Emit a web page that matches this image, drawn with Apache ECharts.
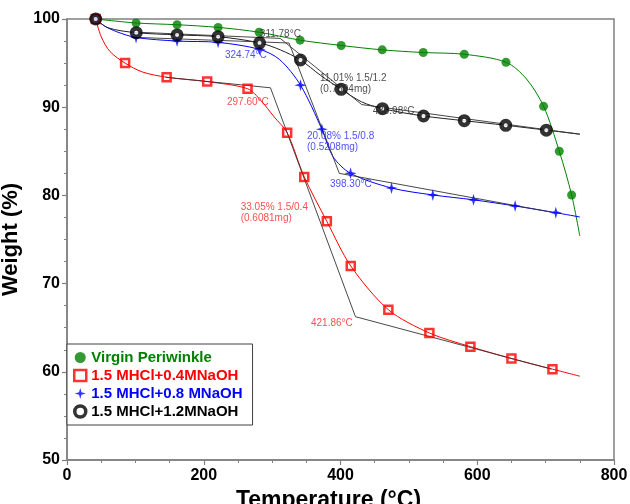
<!DOCTYPE html>
<html>
<head>
<meta charset="utf-8">
<script src="https://cdn.jsdelivr.net/npm/echarts@6/dist/echarts.min.js"></script>
<style>
html,body{margin:0;padding:0;background:#fff;}
#chart{width:630px;height:504px;}
</style>
</head>
<body>
<div id="chart"></div>
<script>
// ---- data (temperature °C, weight %) ----
var seriesNames = ['Virgin Periwinkle', '1.5 MHCl+0.4MNaOH', '1.5 MHCl+0.8 MNaOH', '1.5 MHCl+1.2MNaOH'];

var greenCurve = [[42,100],[101,99.55],[161,99.35],[221,99.05],[281,98.5],[341,97.6],[401,97.0],[461,96.5],[521,96.2],[581,96.0],[642,95.1],[672,93.2],[697,90.1],[720,85.0],[738,80.05],[750,75.4]];
var greenMarks = [[101,99.55],[161,99.35],[221,99.05],[281,98.5],[341,97.6],[401,97.0],[461,96.5],[521,96.2],[581,96.0],[642,95.1],[697,90.1],[720,85.0],[738,80.05]];

var redCurve = [[42,100],[50,98.0],[63,96.3],[85,95.0],[110,94.0],[145.7,93.4],[205,92.9],[264,92.1],[283,90.8],[303,88.9],[322,87.1],[347,82.1],[380,77.06],[415,72.0],[470,67.04],[530,64.4],[590,62.85],[650,61.5],[710,60.3],[750,59.5]];
var redMarks = [[42,100],[85,95.0],[145.7,93.4],[205,92.9],[264,92.1],[322,87.1],[347,82.1],[380,77.06],[415,72.0],[470,67.04],[530,64.4],[590,62.85],[650,61.5],[710,60.3]];

var blueCurve = [[42,100],[55,99.2],[72.6,98.56],[101,97.9],[161,97.5],[221,97.35],[281.6,96.56],[311,95.4],[341.5,92.5],[372.8,87.5],[389,84.4],[414.7,82.5],[474.6,80.84],[535,80.05],[594.5,79.5],[655.4,78.8],[714.9,78.04],[750,77.55]];
var blueMarks = [[42,100],[101,97.9],[161,97.5],[221,97.35],[281.6,96.56],[341.5,92.5],[372.8,87.5],[414.7,82.5],[474.6,80.84],[535,80.05],[594.5,79.5],[655.4,78.8],[714.9,78.04]];

var blackCurve = [[42,100],[60,99.0],[101.3,98.45],[161,98.2],[221,98.0],[281.6,97.3],[312,96.5],[341.5,95.35],[371,93.6],[401,92.03],[431,90.6],[461.4,89.83],[521.4,89.0],[581,88.47],[641.7,87.95],[701,87.4],[750,86.95]];
var blackMarks = [[42,100],[101.3,98.45],[161,98.2],[221,98.0],[281.6,97.3],[341.5,95.35],[401,92.03],[461.4,89.83],[521.4,89.0],[581,88.47],[641.7,87.95],[701,87.4]];

// onset tangent construction lines
var redTangent = [[144.3,93.39],[297.6,92.2],[421.86,66.25],[708.6,60.3]];
var blueTangent = [[106.7,97.9],[324.74,97.28],[398.3,82.5],[708.6,78.1]];
var blackTangent = [[106.7,98.49],[311.78,97.8],[430.98,90.3],[750,86.93]];

// annotation texts and their anchor positions (data coords)
var noteTexts = ['311.78°C', '324.74°C', '297.60°C', '11.01% 1.5/1.2\n(0.7604mg)', '430.98°C', '20.08% 1.5/0.8\n(0.5208mg)', '398.30°C', '33.05% 1.5/0.4\n(0.6081mg)', '421.86°C'];
var noteAt = [[282,98.3],[231,95.9],[234,90.6],[370,92.65],[447,89.57],[351,86.03],[384.5,81.26],[254,78.08],[418,65.5]];
var noteColors = ['#222', '#2222ff', '#ff2020', '#222', '#222', '#2222ff', '#2222ff', '#ff2020', '#ff2020'];
var noteAlign = ['left','left','left','left','left','left','left','left','right'];

var xTicks = {min:0, max:800, interval:200};
var yTicks = {min:50, max:100, interval:10};

// ---- chart ----
var colors = ['#008000', '#ff0000', '#0000ff', '#000000'];
var star = 'path://M0,-10 L2.2,-2.2 L10,0 L2.2,2.2 L0,10 L-2.2,2.2 L-10,0 L-2.2,-2.2 Z';
var FONT = 'Liberation Sans, Arial, sans-serif';

function curve(name, data, color) {
  return {type:'line', name:name, data:data, smooth:0.3, showSymbol:false, symbol:'none',
    lineStyle:{color:color, width:1}, z:2, silent:true};
}
function tangent(name, data) {
  return {type:'line', name:name, data:data, showSymbol:false, symbol:'none',
    lineStyle:{color:'#333', width:0.9}, z:3, silent:true};
}

var notes = noteTexts.map(function(t, i){
  return {value:noteAt[i], label:{formatter:t, color:noteColors[i], align:noteAlign[i]}};
});

var legendIcons = [
  {icon:'circle', itemStyle:{color:colors[0]}},
  {icon:'rect', itemStyle:{color:'#fff', borderColor:colors[1], borderWidth:2.5}},
  {icon:star, itemStyle:{color:colors[2]}},
  {icon:'circle', itemStyle:{color:'#fff', borderColor:'#000', borderWidth:3.5}}
];

var option = {
  animation:false,
  backgroundColor:'#fff',
  grid:{left:67, right:16, top:19, bottom:44, outerBoundsMode:'none', containLabel:false,
    show:true, borderColor:'#808080', borderWidth:1.5, backgroundColor:'transparent'},
  xAxis:{type:'value', min:xTicks.min, max:xTicks.max, interval:xTicks.interval,
    name:'Temperature (°C)', nameLocation:'middle', nameGap:22,
    nameTextStyle:{fontFamily:FONT, fontSize:23, fontWeight:'bold', color:'#000', padding:[0,24,0,0]},
    axisLine:{lineStyle:{color:'#808080', width:1.5}},
    axisTick:{length:5, lineStyle:{color:'#808080', width:1.2}},
    minorTick:{show:true, splitNumber:4, length:3, lineStyle:{color:'#808080', width:1}},
    splitLine:{show:false},
    axisLabel:{fontFamily:FONT, fontSize:16, fontWeight:'bold', color:'#000', margin:8}
  },
  yAxis:{type:'value', min:yTicks.min, max:yTicks.max, interval:yTicks.interval,
    name:'Weight (%)', nameLocation:'middle', nameGap:32,
    nameTextStyle:{fontFamily:FONT, fontSize:22, fontWeight:'bold', color:'#000'},
    axisLine:{lineStyle:{color:'#808080', width:1.5}},
    axisTick:{length:5, lineStyle:{color:'#808080', width:1.2}},
    minorTick:{show:true, splitNumber:4, length:3, lineStyle:{color:'#808080', width:1}},
    splitLine:{show:false},
    axisLabel:{fontFamily:FONT, fontSize:16, fontWeight:'bold', color:'#000', margin:7}
  },
  legend:{orient:'vertical', left:67, top:344, padding:[6,10,6,6], itemGap:3, itemWidth:12, itemHeight:11,
    backgroundColor:'#fff', borderColor:'#404040', borderWidth:1,
    textStyle:{fontFamily:FONT, fontSize:15, fontWeight:'bold'},
    data:seriesNames.map(function(n,i){
      return {name:n, icon:legendIcons[i].icon, itemStyle:legendIcons[i].itemStyle, textStyle:{color:colors[i]}};
    })
  },
  series:[
    curve('c0', greenCurve, colors[0]),
    curve('c1', redCurve, colors[1]),
    curve('c2', blueCurve, colors[2]),
    curve('c3', blackCurve, '#222'),
    tangent('t1', redTangent),
    tangent('t2', blueTangent),
    tangent('t3', blackTangent),
    {type:'scatter', name:seriesNames[0], data:greenMarks, symbol:'circle', symbolSize:9,
      itemStyle:{color:colors[0]}, z:5},
    {type:'scatter', name:seriesNames[1], data:redMarks, symbol:'rect', symbolSize:8,
      itemStyle:{color:'rgba(0,0,0,0)', borderColor:colors[1], borderWidth:2.5}, z:5},
    {type:'scatter', name:seriesNames[2], data:blueMarks, symbol:star, symbolSize:12,
      itemStyle:{color:colors[2]}, z:5},
    {type:'scatter', name:seriesNames[3], data:blackMarks, symbol:'circle', symbolSize:8.5,
      itemStyle:{color:'#fff', borderColor:'#000', borderWidth:4.5}, z:6},
    {type:'scatter', name:'notes', data:notes, symbolSize:0, symbol:'circle', silent:true, z:7,
      label:{show:true, position:'inside', verticalAlign:'middle', fontFamily:FONT, fontSize:10, lineHeight:11}}
  ]
};
var chart = echarts.init(document.getElementById('chart'), null, {renderer:'canvas'});
chart.setOption(option);
</script>
</body>
</html>
